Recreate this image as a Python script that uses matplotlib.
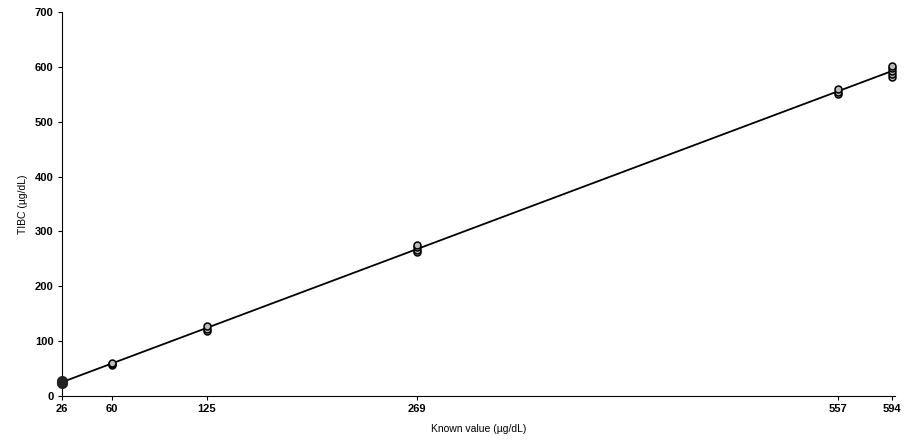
import numpy as np
import matplotlib.pyplot as plt

plt.rcParams['font.family'] = ['Liberation Sans', 'DejaVu Sans']

# replicate TIBC results at each known level (ug/dL)
known = [26, 26, 26, 60, 60, 60,
         125, 125, 125, 269, 269, 269, 269,
         557, 557, 557, 594, 594, 594, 594, 594]
measured = [24, 26, 27, 57, 59, 61,
            119, 123, 128, 262, 266, 271, 275,
            551, 555, 560, 582, 587, 592, 597, 602]
xticks = [26, 60, 125, 269, 557, 594]

fig = plt.figure(figsize=(9.08, 4.43), dpi=100, facecolor='w')
ax = fig.add_axes([0.0683, 0.106, 0.917, 0.867])

slope, icpt = np.polyfit(known, measured, 1)
xs = np.array([min(known), max(known)])
ax.plot(xs, slope * xs + icpt, color='black', lw=1.3, zorder=2)

ax.plot(known, measured, 'o', ms=5, mfc='#bbbbbb', mec='black', mew=1.1,
        zorder=3, clip_on=False)
# lowest level is drawn solid
low = [m for k, m in zip(known, measured) if k == 26]
ax.plot([26] * len(low), low, 'o', ms=7, color='#222222', zorder=4, clip_on=False)

ax.set_xlim(26, 596)
ax.set_ylim(0, 700)
ax.set_xticks(xticks)
ax.set_yticks(range(0, 701, 100))
ax.spines['top'].set_visible(False)
ax.spines['right'].set_visible(False)
ax.tick_params(direction='out', length=3, labelsize=8, pad=3)
for lbl in ax.get_xticklabels() + ax.get_yticklabels():
    lbl.set_fontweight('bold')

ax.set_xlabel('Known value (µg/dL)', fontsize=7.5, labelpad=7)
ax.set_ylabel('TIBC (µg/dL)', fontsize=7.5, labelpad=5)

plt.savefig('out.png', dpi=100)
